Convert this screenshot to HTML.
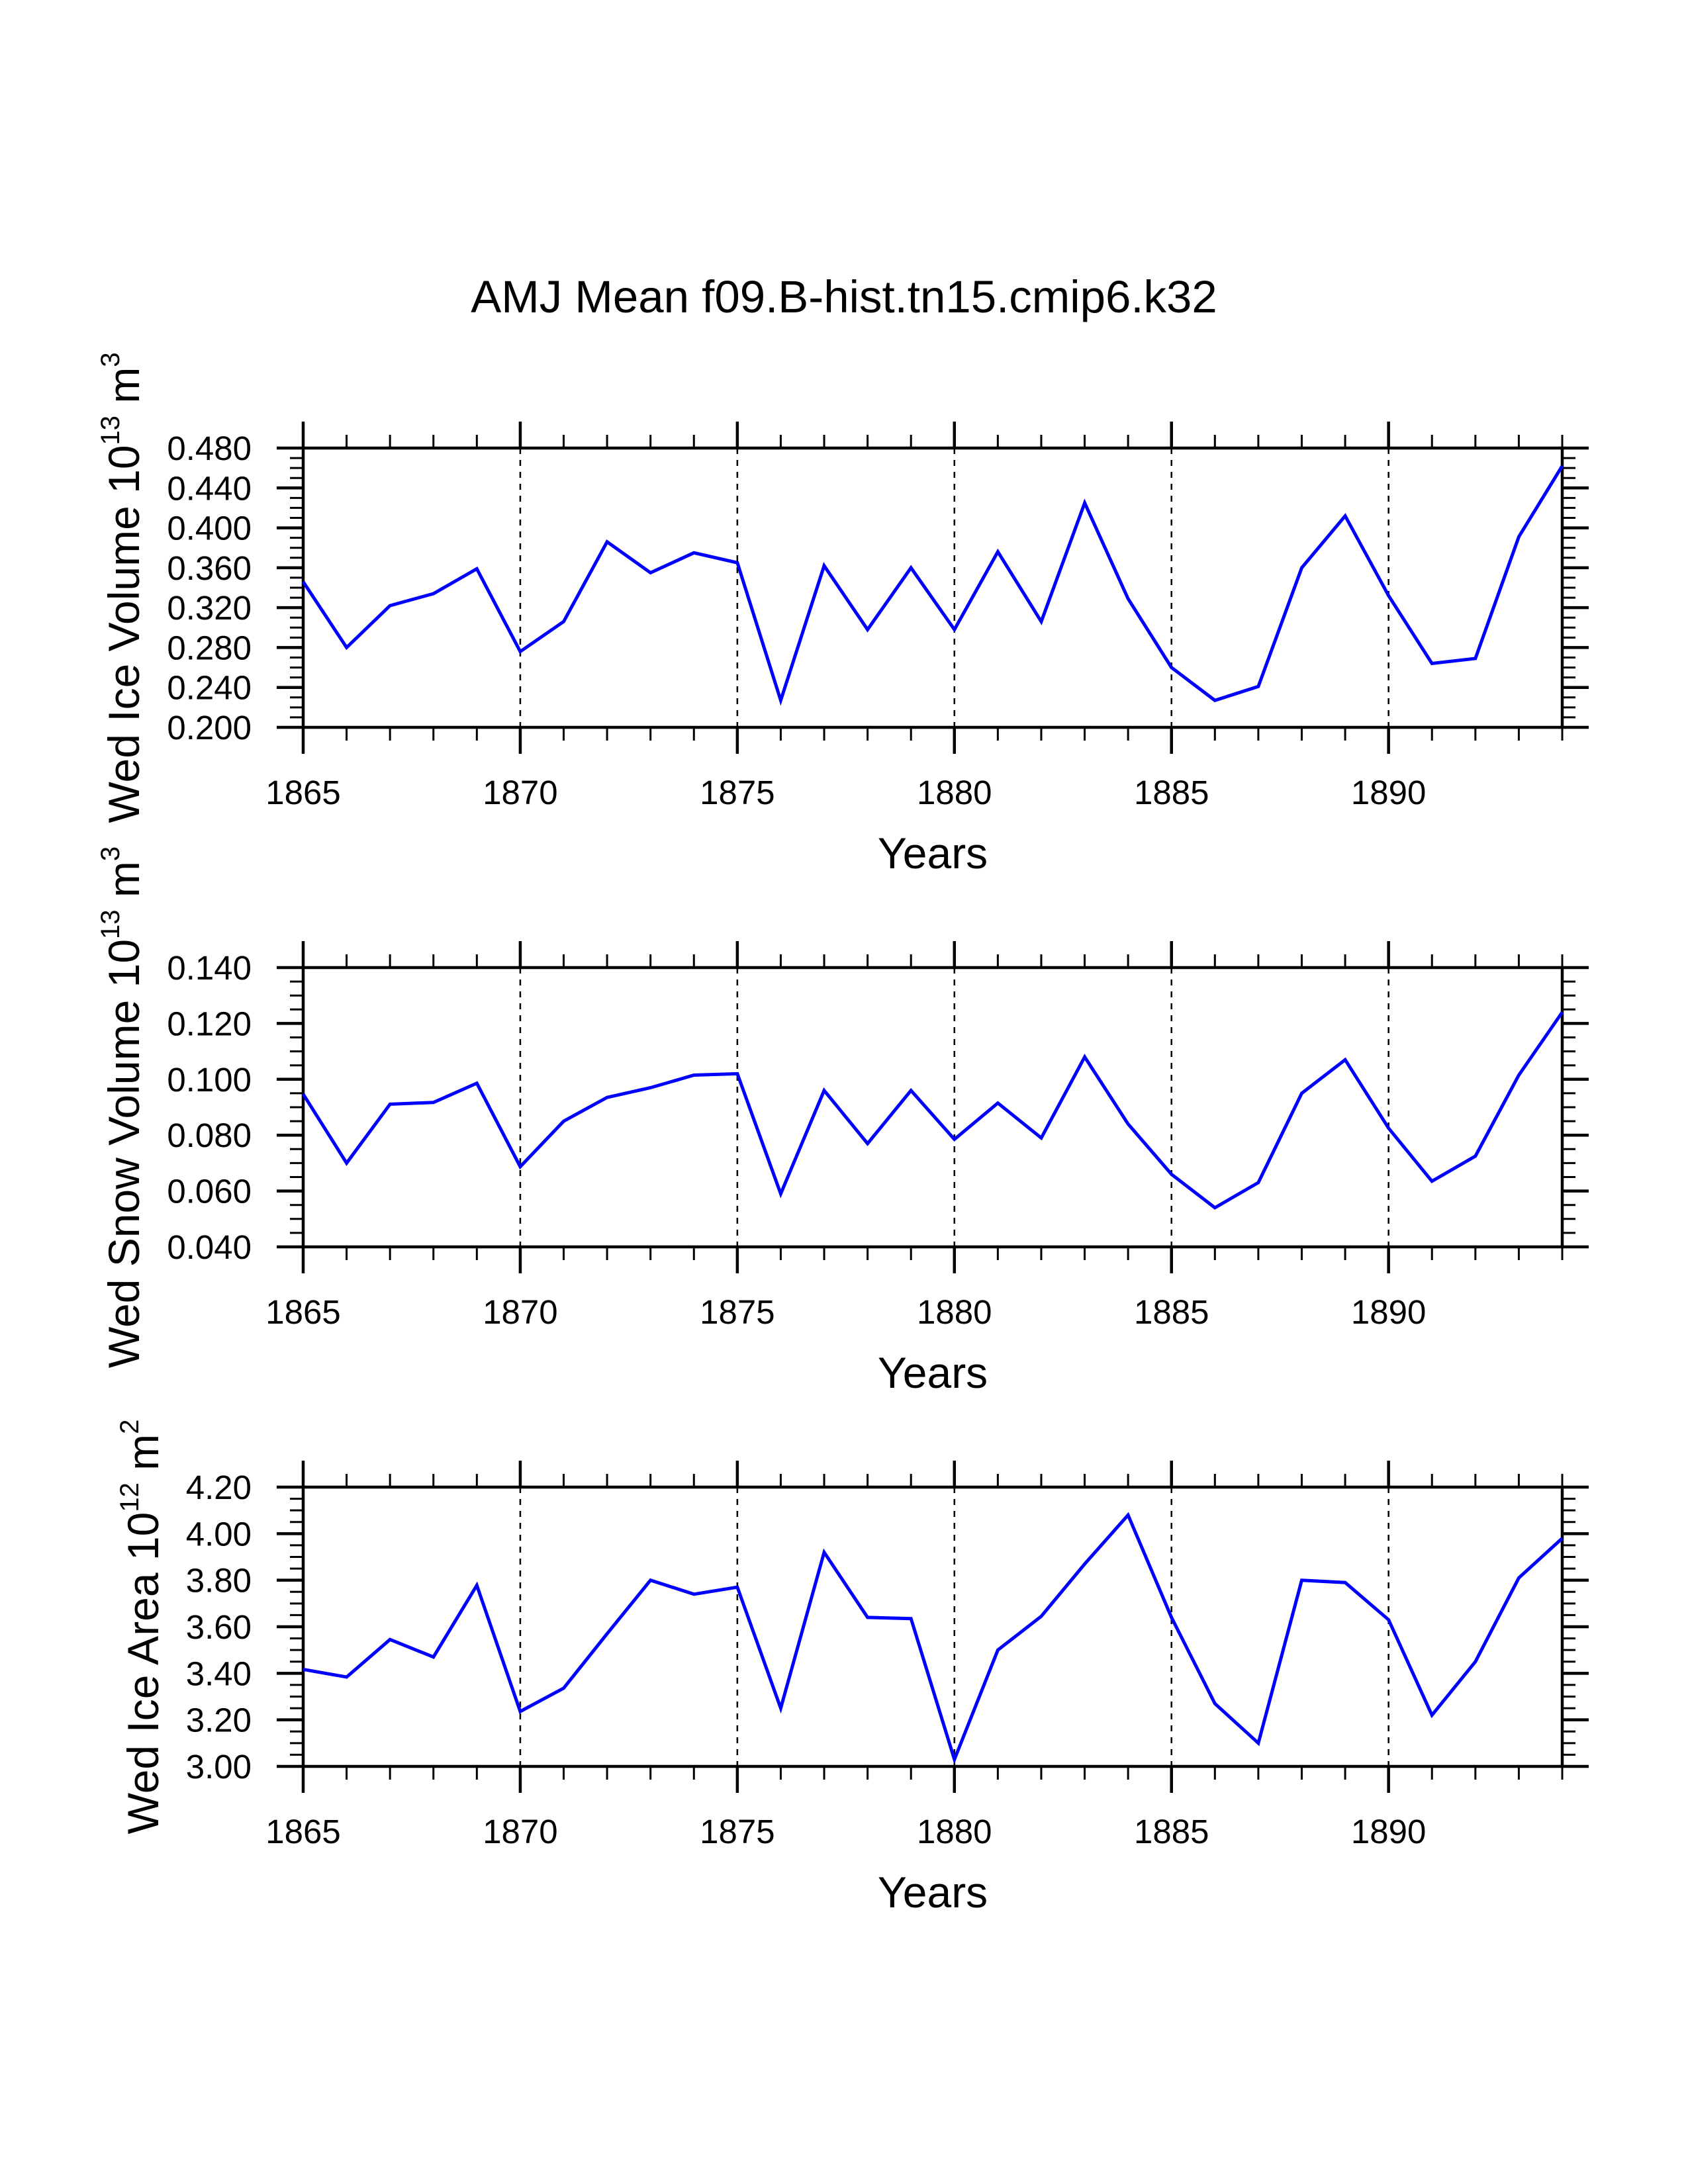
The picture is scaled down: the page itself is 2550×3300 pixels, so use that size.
<!DOCTYPE html>
<html><head><meta charset="utf-8"><style>
html,body{margin:0;padding:0;background:#fff;}
svg{display:block;font-family:"Liberation Sans",sans-serif;}
</style></head><body>
<svg id="fig" width="2550" height="3300" viewBox="0 0 2550 3300" xmlns="http://www.w3.org/2000/svg">
<rect width="2550" height="3300" fill="#fff"/>
<text x="1275" y="472" font-size="69" text-anchor="middle">AMJ Mean f09.B-hist.tn15.cmip6.k32</text>
<g id="plots"></g>
</svg>
<script>
const years = [1865,1866,1867,1868,1869,1870,1871,1872,1873,1874,1875,1876,1877,1878,1879,1880,1881,1882,1883,1884,1885,1886,1887,1888,1889,1890,1891,1892,1893,1894];
const iceVolume = [0.346,0.280,0.322,0.334,0.359,0.276,0.306,0.386,0.355,0.375,0.365,0.227,0.362,0.298,0.360,0.298,0.376,0.306,0.425,0.329,0.260,0.227,0.241,0.360,0.412,0.332,0.264,0.269,0.391,0.462];
const snowVolume = [0.0947,0.070,0.0911,0.0917,0.0986,0.0687,0.085,0.0935,0.097,0.1015,0.102,0.059,0.096,0.077,0.096,0.0785,0.0915,0.079,0.108,0.084,0.066,0.054,0.063,0.095,0.107,0.0825,0.0635,0.0725,0.1015,0.124];
const iceArea = [3.417,3.384,3.545,3.470,3.778,3.236,3.336,3.57,3.80,3.74,3.77,3.25,3.92,3.64,3.635,3.03,3.50,3.645,3.87,4.08,3.64,3.27,3.10,3.80,3.79,3.63,3.22,3.45,3.81,3.98];
const xTickLabels = ["1865","1870","1875","1880","1885","1890"];
const volTicks = ["0.200","0.240","0.280","0.320","0.360","0.400","0.440","0.480"];
const snowTicks = ["0.040","0.060","0.080","0.100","0.120","0.140"];
const areaTicks = ["3.00","3.20","3.40","3.60","3.80","4.00","4.20"];

const NS="http://www.w3.org/2000/svg";
const root=document.getElementById('plots');
const X0=458,X1=2360,XMIN=1865,XMAX=1894;
const xs=v=>X0+(v-XMIN)/(XMAX-XMIN)*(X1-X0);
function mk(tag,attrs,parent){const e=document.createElementNS(NS,tag);for(const k in attrs)e.setAttribute(k,attrs[k]);parent.appendChild(e);return e;}

function panel(key,top,vals,ticks,ymin,ymax,minorStep,titleParts,titleX){
  const bot=top+422;
  const ys=v=>bot-(v-ymin)/(ymax-ymin)*(bot-top);
  const g=mk('g',{},root);
  
  
  // dashed verticals
  for(let y=1870;y<=1890;y+=5){
    const l=mk('line',{x1:xs(y),x2:xs(y),y1:top,y2:bot,stroke:'#000','stroke-width':2.5,'stroke-dasharray':'9,9'},g);
    
    
  }
  // x ticks
  for(let y=XMIN;y<=XMAX;y++){
    const major=(y%5===0);const L=major?40:20;const w=major?4.5:3;
    mk('line',{x1:xs(y),x2:xs(y),y1:top-L,y2:top,stroke:'#000','stroke-width':w},g);
    mk('line',{x1:xs(y),x2:xs(y),y1:bot,y2:bot+L,stroke:'#000','stroke-width':w},g);
  }
  xTickLabels.forEach(t=>{
    const tx=mk('text',{x:xs(+t),y:bot+116,'font-size':51,'text-anchor':'middle'},g);
    tx.textContent=t;
    
    
  });
  // y ticks
  const n=Math.round((ymax-ymin)/minorStep);
  for(let i=0;i<=n;i++){
    const v=ymin+i*minorStep;const major=(i%4===0);const L=major?40:20;const w=major?4.5:3;
    mk('line',{x1:X0-L,x2:X0,y1:ys(v),y2:ys(v),stroke:'#000','stroke-width':w},g);
    mk('line',{x1:X1,x2:X1+L,y1:ys(v),y2:ys(v),stroke:'#000','stroke-width':w},g);
  }
  ticks.forEach(t=>{
    const tx=mk('text',{x:380,y:ys(+t)+18,'font-size':51,'text-anchor':'end'},g);
    tx.textContent=t;
    
    
  });
  // frame
  const fr=mk('rect',{x:X0,y:top,width:X1-X0,height:bot-top,fill:'none',stroke:'#000','stroke-width':4.5},g);
  
  
  // series
  const pts=vals.map((v,i)=>xs(years[i]).toFixed(1)+','+ys(v).toFixed(1)).join(' ');
  const pl=mk('polyline',{points:pts,fill:'none',stroke:'#0000ff','stroke-width':5,'stroke-linejoin':'miter'},g);
  
  
  // x title
  const xt=mk('text',{x:(X0+X1)/2,y:bot+213,'font-size':66,'text-anchor':'middle'},g);
  xt.textContent='Years';
  
  
  // y title
  const cy=(top+bot)/2;
  const yt=mk('text',{x:0,y:0,'font-size':66,'text-anchor':'middle',transform:'translate('+titleX+','+cy+') rotate(-90)'},g);
  
  
  titleParts.forEach(p=>{
    const ts=mk('tspan',p.sup?{'font-size':40,dy:-30}:(p.after?{dy:30}:{}),yt);
    ts.textContent=p.t;
  });
}
panel('ice-volume',677,iceVolume,volTicks,0.2,0.48,0.01,
  [{t:'Wed Ice Volume 10'},{t:'13',sup:true},{t:' m',after:true},{t:'3',sup:true}],210);
panel('snow-volume',1462,snowVolume,snowTicks,0.04,0.14,0.005,
  [{t:'Wed Snow Volume 10'},{t:'13',sup:true},{t:' m',after:true},{t:'3',sup:true}],210);
panel('ice-area',2247,iceArea,areaTicks,3.0,4.2,0.05,
  [{t:'Wed Ice Area 10'},{t:'12',sup:true},{t:' m',after:true},{t:'2',sup:true}],239);
</script>
</body></html>
